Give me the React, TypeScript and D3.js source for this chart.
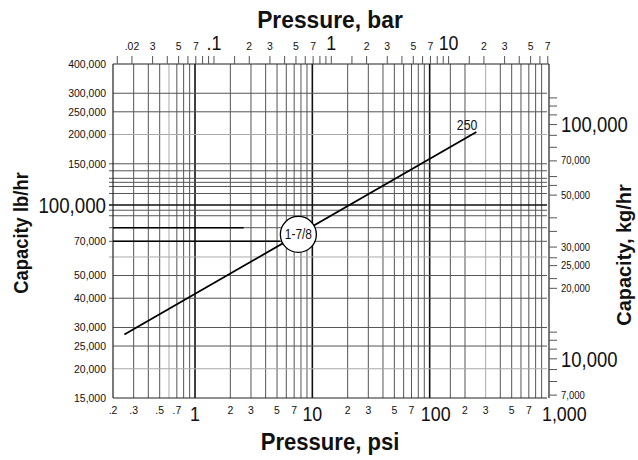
import React from "react";
import * as d3 from "d3";

// ---------- data ----------
const lineSeries = [
  { psi: 0.25, lb: 28000 },
  { psi: 250, lb: 205000 },
];
const lineLabel = "250";
const sizeLabel = "1-7/8";
const sizePsi = 7.6;

const psiGridMults = [1, 2, 3, 4, 5, 6, 7, 8, 9];
const psiDecades = [0.1, 1, 10, 100];
const psiExtra = [150];
const psiMajor = [1, 10, 100];
const psiLight = [0.6, 300];

const lbGrid = [300000, 250000, 200000, 150000, 140000, 130000, 125000, 120000, 112000, 100000, 95000, 90000, 80000, 70000, 60000, 50000, 40000, 30000, 25000, 20000];
const lbLight = [200000, 60000, 20000];
const lbStub = [200000, 150000, 140000, 130000, 125000, 120000, 112000, 100000, 95000, 90000, 80000, 70000, 60000, 40000];
const lbMajorLine = 100000;
const leaderShort = 80000;
const leaderLong = 70000;
const leaderShortPsi = 2.6;

const bottomTicks = [0.2, 0.3, 0.5, 0.7, 1, 2, 3, 5, 7, 10, 20, 30, 50, 70, 100, 200, 300, 500, 700, 1000];
const bottomText = [".2", ".3", ".5", ".7", "1", "2", "3", "5", "7", "10", "2", "3", "5", "7", "100", "2", "3", "5", "7", "1,000"];
const bottomBig = ["1", "10", "100", "1,000"];

const barTickMults = [1, 1.5, 2, 3, 4, 5, 6, 7, 8, 9];
const barDecades = [0.01, 0.1, 1, 10];
const barMin = 0.015;
const barMax = 70;
const topTicks = [0.02, 0.03, 0.05, 0.07, 0.1, 0.2, 0.3, 0.5, 0.7, 1, 2, 3, 5, 7, 10, 20, 30, 50, 70];
const topText = [".02", "3", "5", "7", ".1", "2", "3", "5", "7", "1", "2", "3", "5", "7", "10", "2", "3", "5", "7"];
const topBig = [".1", "1", "10"];

const leftTicks = [400000, 300000, 250000, 200000, 150000, 100000, 70000, 50000, 40000, 30000, 25000, 20000, 15000];
const leftBig = [100000];

const kgTicks = [130000, 120000, 110000, 100000, 90000, 80000, 70000, 60000, 55000, 50000, 40000, 35000, 30000, 27000, 25000, 22000, 20000, 13000, 12000, 11000, 10000, 9000, 8000, 7000];
const kgLabels = [100000, 70000, 50000, 30000, 25000, 20000, 10000, 7000];
const kgBig = [100000, 10000];

const PSI_PER_BAR = 14.5038;
const LB_PER_KG = 2.20462;

const titles = {
  top: "Pressure, bar",
  bottom: "Pressure, psi",
  left: "Capacity lb/hr",
  right: "Capacity, kg/hr",
};

// ---------- layout ----------
const W = 638;
const H = 460;
const M = { left: 113, right: 547, top: 64, bottom: 398 };
const FONT = "'Liberation Sans', Arial, sans-serif";

type TProps = {
  x: number; y: number; size: number; anchor?: string; sx?: number; rot?: number;
  weight?: string; dy?: string; children: React.ReactNode;
};
function T({ x, y, size, anchor = "middle", sx = 1, rot = 0, weight = "normal", dy, children }: TProps) {
  return (
    <text transform={`translate(${x},${y}) rotate(${rot}) scale(${sx},1)`} textAnchor={anchor as any}
      fontSize={size} fontWeight={weight} dy={dy} fill="#111">{children}</text>
  );
}

export default function App() {
  const x = d3.scaleLog().domain([0.2, 1000]).range([M.left, M.right]);
  const y = d3.scaleLog().domain([15000, 400000]).range([M.bottom, M.top]);
  const fmt = d3.format(",");

  const psiGrid: number[] = [];
  psiDecades.forEach((d) => psiGridMults.forEach((m) => {
    const v = +(d * m).toPrecision(3);
    if (v > 0.2 && v <= 1000) psiGrid.push(v);
  }));
  psiExtra.forEach((v) => psiGrid.push(v));

  const barTicks: number[] = [];
  barDecades.forEach((d) => barTickMults.forEach((m) => {
    const v = +(d * m).toPrecision(3);
    if (v >= barMin && v <= barMax) barTicks.push(v);
  }));

  const line = d3.line<{ psi: number; lb: number }>().x((d) => x(d.psi)).y((d) => y(d.lb));
  const p0 = lineSeries[0];
  const p1 = lineSeries[lineSeries.length - 1];
  const t = (Math.log(sizePsi) - Math.log(p0.psi)) / (Math.log(p1.psi) - Math.log(p0.psi));
  const sizeLb = Math.exp(Math.log(p0.lb) + t * (Math.log(p1.lb) - Math.log(p0.lb)));
  const cx = x(sizePsi);
  const cy = y(sizeLb);
  const r = 18;
  const rightAxisX = M.right + 2;

  return (
    <svg width={W} height={H} style={{ position: "absolute", left: 0, top: 0, background: "#fff" }} fontFamily={FONT}>
      <rect width={W} height={H} fill="#fff" />
      {/* vertical grid */}
      {psiGrid.map((v, i) => {
        const light = psiLight.some((l) => Math.abs(l - v) < 1e-9);
        const major = psiMajor.includes(v);
        return (
          <line key={"vg" + i} x1={x(v)} x2={x(v)} y1={M.top} y2={M.bottom}
            stroke={major ? "#111" : light ? "#aaa" : "#555"} strokeWidth={major ? 1.6 : 1} />
        );
      })}
      {/* horizontal grid */}
      {lbGrid.map((v, i) => {
        const light = lbLight.includes(v);
        const major = v === lbMajorLine;
        const stub = lbStub.includes(v);
        return (
          <line key={"hg" + i} x1={M.left - (stub ? 4 : 0)} x2={M.right} y1={y(v)} y2={y(v)}
            stroke={major ? "#111" : light ? "#aaa" : "#555"} strokeWidth={major ? 1.4 : 1} />
        );
      })}
      {/* frame */}
      <line x1={M.left} x2={M.left} y1={M.top} y2={M.bottom} stroke="#222" strokeWidth={1.2} />
      <line x1={M.left} x2={M.right} y1={M.bottom} y2={M.bottom} stroke="#222" strokeWidth={1.2} />
      <line x1={M.left} x2={rightAxisX} y1={M.top} y2={M.top} stroke="#222" strokeWidth={1.2} />
      <line x1={rightAxisX} x2={rightAxisX} y1={M.top} y2={M.bottom} stroke="#222" strokeWidth={1.2} />

      {/* leaders */}
      <line x1={M.left} x2={x(leaderShortPsi)} y1={y(leaderShort)} y2={y(leaderShort)} stroke="#000" strokeWidth={1.4} />
      <line x1={M.left} x2={cx - r} y1={y(leaderLong)} y2={y(leaderLong)} stroke="#000" strokeWidth={1.4} />

      {/* capacity line */}
      <path d={line(lineSeries) || ""} fill="none" stroke="#000" strokeWidth={1.8} />
      <T x={x(p1.psi) + 1} y={y(p1.lb) - 2} size={15} sx={0.82} anchor="end">{lineLabel}</T>
      <circle cx={cx} cy={cy} r={r} fill="#fff" stroke="#000" strokeWidth={1.3} />
      <T x={cx} y={cy + 5} size={14} sx={0.85}>{sizeLabel}</T>

      {/* top axis (bar) */}
      {barTicks.map((b, i) => (
        <line key={"tt" + i} x1={x(b * PSI_PER_BAR)} x2={x(b * PSI_PER_BAR)} y1={M.top - 8} y2={M.top} stroke="#555" strokeWidth={1} />
      ))}
      {topTicks.map((b, i) => {
        const big = topBig.includes(topText[i]);
        return (
          <T key={"tl" + i} x={x(b * PSI_PER_BAR)} y={50} size={big ? 21 : 11} sx={big ? 0.85 : 0.95}>{topText[i]}</T>
        );
      })}

      {/* bottom axis (psi) */}
      {bottomTicks.map((v, i) => {
        const big = bottomBig.includes(bottomText[i]);
        const last = i === bottomTicks.length - 1;
        const shift = bottomText[i] === "100" ? 6 : 0;
        return (
          <T key={"bl" + i} x={last ? x(v) - 5 : x(v) + shift} y={big ? 421 : 414} anchor={last ? "start" : "middle"}
            size={big ? 21 : 11} sx={big ? 0.85 : 0.95}>{bottomText[i]}</T>
        );
      })}

      {/* left axis (lb/hr) */}
      {leftTicks.map((v, i) => {
        const big = leftBig.includes(v);
        return (
          <T key={"ll" + i} x={106} y={y(v)} dy="0.35em" anchor="end" size={big ? 22 : 11} sx={big ? 0.85 : 0.95}>{fmt(v)}</T>
        );
      })}

      {/* right axis (kg/hr) */}
      {kgTicks.map((k, i) => (
        <line key={"rt" + i} x1={rightAxisX} x2={rightAxisX + 8} y1={y(k * LB_PER_KG)} y2={y(k * LB_PER_KG)} stroke="#555" strokeWidth={1} />
      ))}
      {kgLabels.map((k, i) => {
        const big = kgBig.includes(k);
        return (
          <T key={"rl" + i} x={561} y={y(k * LB_PER_KG)} dy="0.35em" anchor="start" size={big ? 22 : 10} sx={big ? 0.84 : 0.95}>{fmt(k)}</T>
        );
      })}

      {/* titles */}
      <T x={330} y={28} size={24} weight="bold" sx={0.95}>{titles.top}</T>
      <T x={330} y={450} size={24} weight="bold" sx={0.92}>{titles.bottom}</T>
      <T x={28} y={233} rot={-90} size={20} weight="bold" sx={0.92}>{titles.left}</T>
      <T x={631} y={255} rot={-90} size={21} weight="bold" sx={0.95}>{titles.right}</T>
    </svg>
  );
}
